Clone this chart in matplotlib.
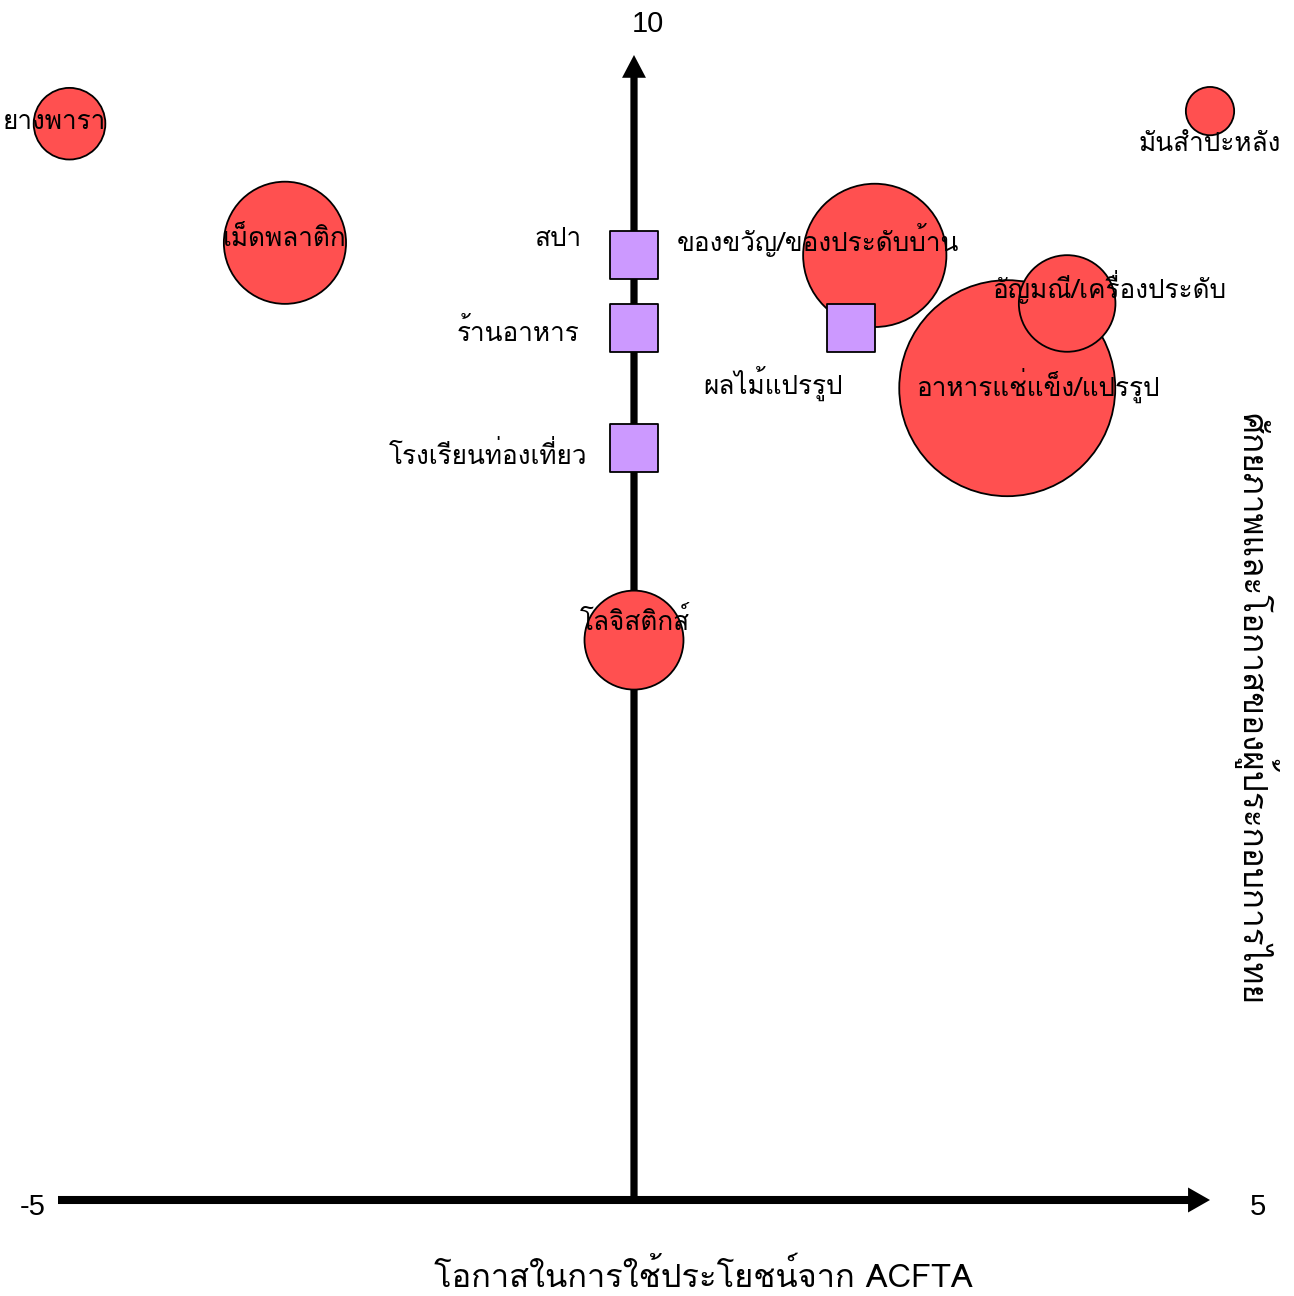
import matplotlib
matplotlib.use("Agg")
import matplotlib.pyplot as plt

# goods sectors (bubbles)
goods = ["ยางพารา", "เม็ดพลาติก", "โลจิสติกส์", "ของขวัญ/ของประดับบ้าน",
         "อาหารแช่แข็ง/แปรรูป", "อัญมณี/เครื่องประดับ", "มันสำปะหลัง"]
goods_x = [-4.9, -3.03, 0.0, 2.09, 3.24, 3.76, 5.0]
goods_y = [9.4, 8.36, 4.89, 8.25, 7.09, 7.83, 9.51]
goods_size = [11, 32, 21, 44, 100, 20, 5]

# service sectors (squares)
services = ["สปา", "ร้านอาหาร", "โรงเรียนท่องเที่ยว", "ผลไม้แปรรูป"]
services_x = [0.0, 0.0, 0.0, 1.88]
services_y = [8.25, 7.62, 6.57, 7.62]

x_limits = [-5, 5]
y_limits = [0, 10]
x_title = "โอกาสในการใช้ประโยชน์จาก ACFTA"
y_title = "ศักยภาพและโอกาสของผู้ประกอบการไทย"

# label offsets in points (dx, dy, ha)
label_pos = {
    "ยางพารา": (-11, 1.5, "center"),
    "เม็ดพลาติก": (0, 3, "center"),
    "โลจิสติกส์": (0.5, 14, "center"),
    "ของขวัญ/ของประดับบ้าน": (-41, 11, "center"),
    "อาหารแช่แข็ง/แปรรูป": (22, 2, "center"),
    "อัญมณี/เครื่องประดับ": (30, 11.5, "center"),
    "มันสำปะหลัง": (0, -24, "center"),
    "สปา": (-38, 12, "right"),
    "ร้านอาหาร": (-39, -3, "right"),
    "โรงเรียนท่องเที่ยว": (-34, -5, "right"),
    "ผลไม้แปรรูป": (-56, -40, "center"),
}

thai = ["Loma", "DejaVu Sans"]
num_font = ["Liberation Sans", "DejaVu Sans"]

fig = plt.figure(figsize=(12.94, 12.96), dpi=100)
ax = fig.add_axes([58 / 1294, 96 / 1296, 1152 / 1294, 1145 / 1296])
ax.set_xlim(x_limits)
ax.set_ylim(y_limits)
ax.axis("off")

# axes drawn as thick arrows
ax.annotate("", xy=(x_limits[1], 0), xytext=(x_limits[0], 0),
            arrowprops=dict(arrowstyle="simple,head_length=0.79,head_width=0.9,tail_width=0.29",
                            mutation_scale=20, fc="black", ec="none", lw=0,
                            shrinkA=0, shrinkB=0), zorder=1)
ax.annotate("", xy=(0, y_limits[1]), xytext=(0, y_limits[0]),
            arrowprops=dict(arrowstyle="simple,head_length=0.82,head_width=0.86,tail_width=0.26",
                            mutation_scale=20, fc="black", ec="none", lw=0,
                            shrinkA=0, shrinkB=0), zorder=1)

ax.annotate(str(x_limits[0]), (x_limits[0], 0), xytext=(-18, -5), textcoords="offset points",
            ha="center", va="center", fontsize=21, family=num_font)
ax.annotate(str(x_limits[1]), (x_limits[1], 0), xytext=(34.5, -5), textcoords="offset points",
            ha="center", va="center", fontsize=21, family=num_font)
ax.annotate(str(y_limits[1]), (0, y_limits[1]), xytext=(10, 22.5), textcoords="offset points",
            ha="center", va="center", fontsize=21, family=num_font)

scale = 241.86
ax.scatter(goods_x, goods_y, s=[v * scale for v in goods_size], c="#FF5050",
           edgecolors="black", linewidths=1.3, zorder=2, clip_on=False)
ax.scatter(services_x, services_y, s=1194, marker="s", c="#CC99FF",
           edgecolors="black", linewidths=1.3, zorder=3, clip_on=False)

for name, x, y in list(zip(goods, goods_x, goods_y)) + list(zip(services, services_x, services_y)):
    dx, dy, ha = label_pos[name]
    ax.annotate(name, (x, y), xytext=(dx, dy), textcoords="offset points",
                ha=ha, va="center", fontsize=18.8, family=thai, zorder=4)

fig.text(703 / 1294, 1 - 1277 / 1296, x_title, ha="center", va="center",
         fontsize=23.5, family=thai)
fig.text(1255 / 1294, 1 - 709 / 1296, y_title, ha="center", va="center",
         rotation=270, fontsize=24, family=thai)

fig.savefig("out.png", dpi=100)
